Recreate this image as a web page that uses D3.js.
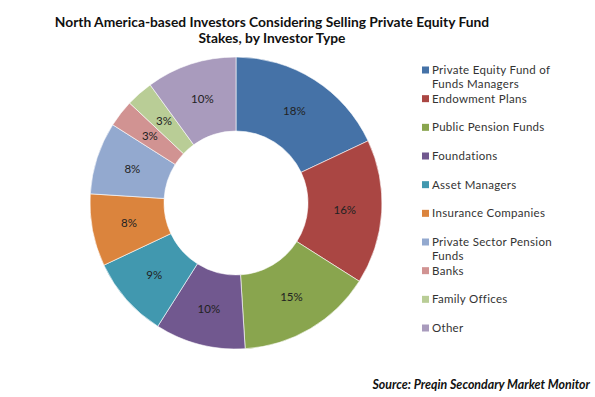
<!DOCTYPE html>
<html>
<head>
<meta charset="utf-8">
<script src="https://cdn.jsdelivr.net/npm/d3@7"></script>
<style>
  body { margin: 0; background: #fff; }
  svg { display: block; font-family: "Lato", "DejaVu Sans", sans-serif; }
</style>
</head>
<body>
<svg id="chart" width="595" height="397"></svg>
<script>
var categories = ["Private Equity Fund of Funds Managers", "Endowment Plans", "Public Pension Funds",
                  "Foundations", "Asset Managers", "Insurance Companies",
                  "Private Sector Pension Funds", "Banks", "Family Offices", "Other"];
var values = [18, 16, 15, 10, 9, 8, 8, 3, 3, 10];
var colors = ["#4572A7", "#AA4643", "#89A54E", "#71588F", "#4198AF",
              "#DB843D", "#93A9CF", "#D19392", "#B9CD96", "#A99BBD"];
// legend labels broken the way the original wraps them
var legendLines = [["Private Equity Fund of", "Funds Managers"], ["Endowment Plans"], ["Public Pension Funds"],
                   ["Foundations"], ["Asset Managers"], ["Insurance Companies"],
                   ["Private Sector Pension", "Funds"], ["Banks"], ["Family Offices"], ["Other"]];
var titleLines = ["North America-based Investors Considering Selling Private Equity Fund",
                  "Stakes, by Investor Type"];
var sourceText = "Source: Preqin Secondary Market Monitor";

function drawChart() {
    var svg = d3.select("#chart");
    svg.selectAll("*").remove();

    var cx = 236, cy = 203,
        outerR = 146, innerR = 72;

    var color = d3.scaleOrdinal().domain(categories).range(colors);

    var pie = d3.pie().sort(null).value(function(d, i) { return values[i]; });
    var arc = d3.arc().innerRadius(innerR).outerRadius(outerR);

    var g = svg.append("g")
        .attr("transform", "translate(" + cx + "," + cy + ")");

    var arcs = pie(categories);

    g.selectAll(".slice")
        .data(arcs)
        .enter().append("path")
        .attr("class", "slice")
        .attr("d", arc)
        .attr("fill", function(d) { return color(d.data); })
        .attr("stroke", "#fff")
        .attr("stroke-width", 0.6);

    g.selectAll(".pct")
        .data(arcs)
        .enter().append("text")
        .attr("class", "pct")
        .attr("transform", function(d) { return "translate(" + arc.centroid(d) + ")"; })
        .attr("text-anchor", "middle")
        .attr("dy", "0.35em")
        .attr("font-size", 11.5)
        .attr("fill", "#222")
        .text(function(d) { return values[d.index] + "%"; });

    // title
    svg.append("text")
        .attr("x", 272)
        .attr("y", 27)
        .attr("text-anchor", "middle")
        .attr("font-size", 13.8)
        .attr("font-weight", "bold")
        .attr("fill", "#111")
        .selectAll("tspan")
        .data(titleLines)
        .enter().append("tspan")
        .attr("x", 272)
        .attr("dy", function(d, i) { return i ? 16 : 0; })
        .text(function(d) { return d; });

    // legend
    var legendY = d3.scaleLinear().domain([0, categories.length - 1]).range([70, 328]);
    var lg = svg.append("g").attr("class", "legend");
    var item = lg.selectAll("g")
        .data(categories)
        .enter().append("g")
        .attr("transform", function(d, i) { return "translate(422," + legendY(i) + ")"; });

    item.append("rect")
        .attr("x", 0)
        .attr("y", -3.5)
        .attr("width", 7)
        .attr("height", 7)
        .attr("fill", function(d) { return color(d); });

    item.append("text")
        .attr("font-size", 11.5)
        .attr("letter-spacing", 0.3)
        .attr("fill", "#333")
        .selectAll("tspan")
        .data(function(d, i) { return legendLines[i]; })
        .enter().append("tspan")
        .attr("x", 10)
        .attr("y", function(d, j) { return j * 14; })
        .attr("dy", "0.35em")
        .text(function(d) { return d; });

    // source
    svg.append("text")
        .attr("x", 590)
        .attr("y", 389)
        .attr("text-anchor", "end")
        .attr("font-size", 12.4)
        .attr("font-weight", "bold")
        .attr("font-style", "italic")
        .attr("fill", "#111")
        .text(sourceText);
}

drawChart();
</script>
</body>
</html>
